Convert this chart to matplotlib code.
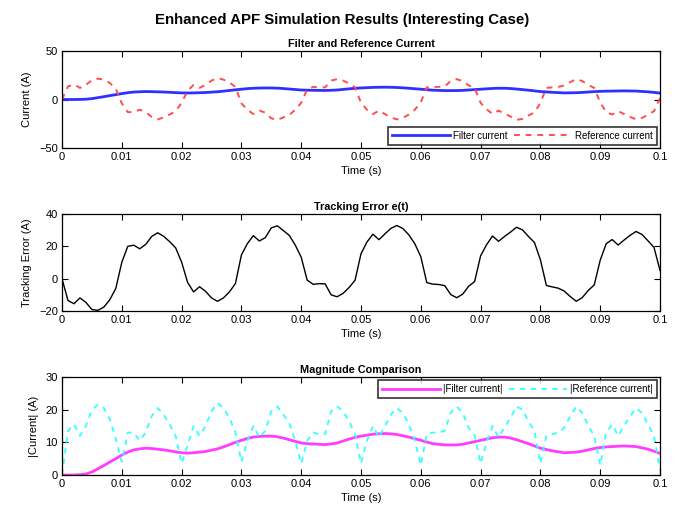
import numpy as np
import matplotlib
matplotlib.use("Agg")
import matplotlib.pyplot as plt

plt.rcParams['font.family'] = ['Liberation Sans', 'DejaVu Sans']

# time axis (s), sampled every 1 ms
t = np.arange(0, 101) / 1000.0

i_filter = [0, 0, 0, 0.1, 0.3, 0.9, 1.9, 2.9, 4.0, 5.0,
            6.1, 7.0, 7.7, 8.0, 8.2, 8.1, 7.9, 7.7, 7.4, 7.1,
            6.8, 6.7, 6.8, 7.0, 7.2, 7.6, 8.0, 8.6, 9.3, 10.0,
            10.6, 11.2, 11.6, 11.8, 11.9, 11.9, 11.7, 11.3, 10.8, 10.3,
            9.8, 9.6, 9.5, 9.4, 9.3, 9.5, 9.8, 10.4, 11.0, 11.5,
            11.9, 12.2, 12.5, 12.6, 12.7, 12.6, 12.4, 12.0, 11.6, 11.1,
            10.6, 10.1, 9.6, 9.4, 9.2, 9.2, 9.2, 9.4, 9.8, 10.2,
            10.6, 11.0, 11.4, 11.6, 11.6, 11.3, 10.8, 10.2, 9.6, 8.9,
            8.2, 7.8, 7.4, 7.1, 6.8, 6.9, 7.0, 7.3, 7.7, 8.1,
            8.4, 8.6, 8.7, 8.8, 8.9, 8.8, 8.7, 8.3, 7.9, 7.3,
            6.6]

i_ref = [0, 13.5, 15.5, 12, 15, 20, 21.5, 20.5, 17, 11,
         -4, -13, -13, -10.5, -13, -18, -20.5, -18.5, -15.5, -12,
         -3.5, 9, 15, 12, 15, 19.5, 22, 20.5, 17.5, 13,
         -4, -10.5, -15, -11.5, -13.5, -19.5, -21, -18.5, -16, -10.5,
         -3.5, 10.5, 13, 12.5, 12.5, 19.5, 21, 19.5, 16.5, 12.5,
         -3.5, -10.5, -15, -11.5, -15, -18.5, -20.5, -19, -15.5, -10.5,
         -3, 12.5, 13, 13, 13.5, 19, 21, 19, 14.5, 12,
         -3.5, -10, -15, -11.5, -14.5, -17.5, -21, -20, -16.5, -13.5,
         -3.5, 12, 12.5, 13, 14.5, 18, 21, 19, 15, 12,
         -3, -13, -15.5, -12, -15, -18, -20.5, -19, -15.5, -12,
         1.5]

i_filter = np.array(i_filter)
i_ref = np.array(i_ref)
err = i_filter - i_ref

xticks = [0, 0.01, 0.02, 0.03, 0.04, 0.05, 0.06, 0.07, 0.08, 0.09, 0.1]
xticklabels = ['0', '0.01', '0.02', '0.03', '0.04', '0.05', '0.06', '0.07', '0.08', '0.09', '0.1']

W, H = 681, 514
fig = plt.figure(figsize=(W / 100, H / 100), dpi=100)

def rect(top, bottom, left=62, right=660):
    return [left / W, 1 - bottom / H, (right - left) / W, (bottom - top) / H]

fs = 8
tfs = 7.8

def style(ax, ylim, yticks):
    ax.set_xlim(0, 0.1)
    ax.set_ylim(*ylim)
    ax.set_xticks(xticks)
    ax.set_xticklabels(xticklabels)
    ax.set_yticks(yticks)
    ax.tick_params(direction='in', top=True, right=True, labelsize=fs, length=4, width=0.8, pad=3)
    for s in ax.spines.values():
        s.set_linewidth(0.9)
    ax.set_xlabel('Time (s)', fontsize=fs, labelpad=3)

leg_kw = dict(ncol=2, fontsize=7, frameon=True, fancybox=False, edgecolor='black',
              handlelength=6, borderpad=0.4, columnspacing=0.6,
              handletextpad=0.3, borderaxespad=0.35)

ax1 = fig.add_axes(rect(51, 148))
ax1.plot(t, i_filter, color='#2f2fff', lw=2.0, label='Filter current')
ax1.plot(t, i_ref, color='#ff4d4d', lw=1.4, ls=(0, (3, 3)), label='Reference current')
style(ax1, (-50, 50), [-50, 0, 50])
ax1.set_ylabel('Current (A)', fontsize=fs, labelpad=5)
ax1.set_title('Filter and Reference Current', fontsize=tfs, fontweight='bold', pad=3)
leg1 = ax1.legend(loc='lower right', **leg_kw)
leg1.get_frame().set_linewidth(1.2)

ax2 = fig.add_axes(rect(214, 311))
ax2.plot(t, err, color='black', lw=1.0)
style(ax2, (-20, 40), [-20, 0, 20, 40])
ax2.set_ylabel('Tracking Error (A)', fontsize=fs, labelpad=5)
ax2.set_title('Tracking Error e(t)', fontsize=tfs, fontweight='bold', pad=3)

ax3 = fig.add_axes(rect(377, 475))
ax3.plot(t, np.abs(i_filter), color='#ff3cff', lw=2.0, label='|Filter current|')
ax3.plot(t, np.abs(i_ref), color='#33ffff', lw=1.3, ls=(0, (3, 3)), label='|Reference current|')
style(ax3, (0, 30), [0, 10, 20, 30])
ax3.set_ylabel('|Current| (A)', fontsize=fs, labelpad=5)
ax3.set_title('Magnitude Comparison', fontsize=tfs, fontweight='bold', pad=3)
leg3 = ax3.legend(loc='upper right', **leg_kw)
leg3.get_frame().set_linewidth(1.2)

fig.text(0.503, 1 - 20 / H, 'Enhanced APF Simulation Results (Interesting Case)',
         ha='center', va='center', fontsize=10.8, fontweight='bold')

fig.savefig('out.png', dpi=100)
